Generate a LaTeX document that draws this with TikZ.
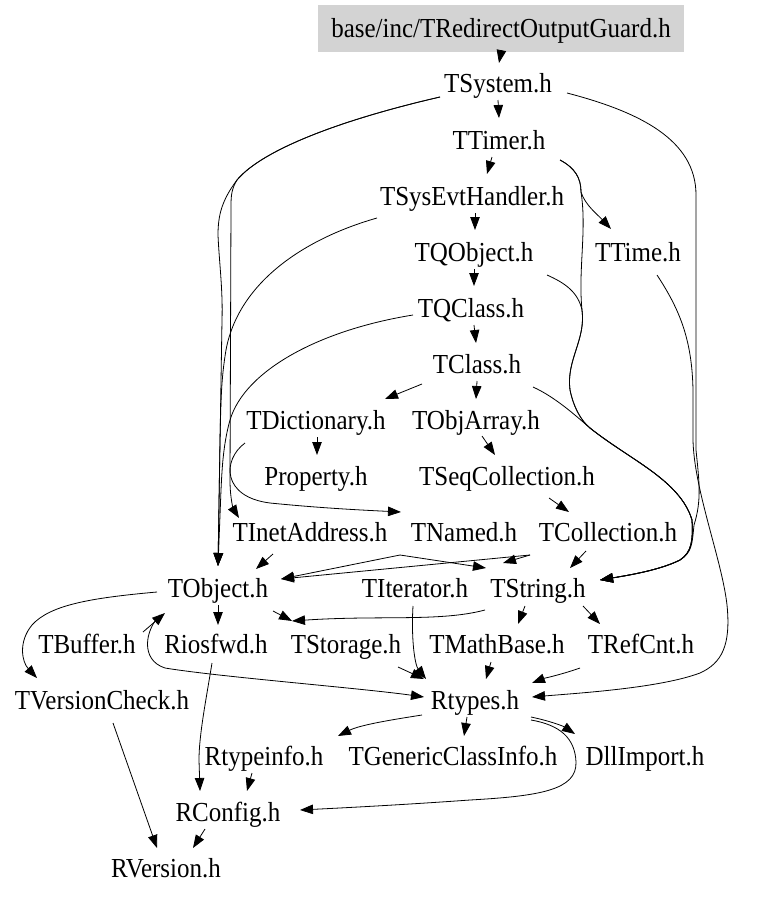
\documentclass[tikz,border=0pt]{standalone}
\usepackage{fontspec}
\setmainfont{Liberation Serif}
\usepackage{graphicx}
\usetikzlibrary{arrows.meta,calc}
\definecolor{boxgray}{RGB}{211,211,211}
\newcommand\nlab[1]{\scalebox{1}[1.1]{#1}}
\begin{document}
\begin{tikzpicture}[x=1pt,y=-1pt,
  lab/.style={inner sep=0pt, text height=23pt, text depth=6pt, font=\fontsize{25pt}{30pt}\selectfont},
  rootbox/.style={lab, fill=boxgray, minimum width=366pt, minimum height=47pt},
  edg/.style={draw, line width=0.8pt, -{Triangle[length=13pt,width=9.5pt]}}]
\fill[white] (0,0) rectangle (779,897);
\useasboundingbox (0,0) rectangle (779,897);

\node[rootbox] (rog) at (501,28.5) {\nlab{base/inc/TRedirectOutputGuard.h}};
\node[lab] (tsystem) at (498,84) {\nlab{TSystem.h}};
\node[lab] (ttimer) at (499,141) {\nlab{TTimer.h}};
\node[lab] (tsys) at (472,197) {\nlab{TSysEvtHandler.h}};
\node[lab] (tqobject) at (474,253) {\nlab{TQObject.h}};
\node[lab] (ttime) at (638,253) {\nlab{TTime.h}};
\node[lab] (tqclass) at (471,309) {\nlab{TQClass.h}};
\node[lab] (tclass) at (477,365) {\nlab{TClass.h}};
\node[lab] (tdict) at (316,421) {\nlab{TDictionary.h}};
\node[lab] (tobjarray) at (476,421) {\nlab{TObjArray.h}};
\node[lab] (property) at (316,477) {\nlab{Property.h}};
\node[lab] (tseqcoll) at (507,477) {\nlab{TSeqCollection.h}};
\node[lab] (tinet) at (310,533) {\nlab{TInetAddress.h}};
\node[lab] (tnamed) at (464,533) {\nlab{TNamed.h}};
\node[lab] (tcoll) at (608,533) {\nlab{TCollection.h}};
\node[lab] (tobject) at (218,589) {\nlab{TObject.h}};
\node[lab] (titer) at (415,589) {\nlab{TIterator.h}};
\node[lab] (tstring) at (538,589) {\nlab{TString.h}};
\node[lab] (tbuffer) at (87,645) {\nlab{TBuffer.h}};
\node[lab] (riosfwd) at (216,645) {\nlab{Riosfwd.h}};
\node[lab] (tstorage) at (346,645) {\nlab{TStorage.h}};
\node[lab] (tmathbase) at (497,645) {\nlab{TMathBase.h}};
\node[lab] (trefcnt) at (641,645) {\nlab{TRefCnt.h}};
\node[lab] (tversion) at (102,701) {\nlab{TVersionCheck.h}};
\node[lab] (rtypes) at (475,701) {\nlab{Rtypes.h}};
\node[lab] (rtypeinfo) at (264,757) {\nlab{Rtypeinfo.h}};
\node[lab] (tgci) at (453,757) {\nlab{TGenericClassInfo.h}};
\node[lab] (dllimport) at (645,757) {\nlab{DllImport.h}};
\node[lab] (rconfig) at (228,813) {\nlab{RConfig.h}};
\node[lab] (rversion) at (166,869) {\nlab{RVersion.h}};

% short edges
\draw[edg] ($(rog)+(0,24)$) -- ($(tsystem)+(1,-21)$);
\draw[edg] ($(tsystem)+(0,16)$) -- ($(ttimer)+(0,-23)$);
\draw[edg] ($(ttimer)+(-7,16)$) -- ($(tsys)+(15,-23)$);
\draw[edg] ($(tsys)+(3,16)$) -- ($(tqobject)+(1,-23)$);
\draw[edg] ($(tqobject)+(0,16)$) -- ($(tqclass)+(3,-23)$);
\draw[edg] ($(tqclass)+(3,16)$) -- ($(tclass)+(-1,-22)$);
\draw[edg] ($(tclass)+(0,16)$) -- ($(tobjarray)+(0,-22)$);
\draw[edg] ($(tclass)+(-55,19)$) -- ($(tdict)+(69,-22)$);
\draw[edg] ($(tdict)+(1,16)$) -- ($(property)+(1,-22)$);
\draw[edg] ($(tobjarray)+(6,15)$) -- ($(tseqcoll)+(-12,-22)$);
\draw[edg] ($(tseqcoll)+(42,21)$) -- ($(tcoll)+(-39,-21)$);
\draw[edg] ($(tcoll)+(-22,18)$) -- ($(tstring)+(32,-21)$);
\draw[edg] ($(tinet)+(-37,21)$) -- ($(tobject)+(38,-20)$);
\draw[edg] ($(tnamed)+(-64,22)$) -- ($(tobject)+(63,-10)$);
\draw[edg] ($(tnamed)+(-64,22)$) -- ($(tstring)+(-52,-21)$);
\draw[edg] ($(tcoll)+(-78,22)$) -- ($(tobject)+(63,-10)$);
\draw[edg] ($(tcoll)+(-78,22)$) -- ($(titer)+(88,-26)$);
\draw[edg] ($(tobject)+(0,16)$) -- ($(riosfwd)+(2,-20)$);
\draw[edg] ($(tobject)+(55,22)$) -- ($(tstorage)+(-54,-24)$);
\draw[edg] ($(tstring)+(-53,21)$) .. controls (440,622) and (380,615) .. ($(tstorage)+(-54,-24)$);
\draw[edg] ($(tstring)+(-13,17)$) -- ($(tmathbase)+(21,-21)$);
\draw[edg] ($(tstring)+(45,17)$) -- ($(trefcnt)+(-41,-21)$);
\draw[edg] ($(trefcnt)+(-61,23)$) .. controls (560,675) and (545,678) .. ($(rtypes)+(57,-18)$);
\draw[edg] ($(tmathbase)+(-6,17)$) -- ($(rtypes)+(11,-22)$);
\draw[edg] ($(tstorage)+(52,22)$) -- ($(rtypes)+(-51,-22)$);
\draw[edg] ($(titer)+(-2,17)$) .. controls (411,640) and (415,665) .. ($(rtypes)+(-49,-22)$);
\draw[edg] ($(tobject)+(-58,26)$) .. controls (145,630) and (140,660) .. (165,668) .. controls (220,677) and (360,688) .. ($(rtypes)+(-51,-4)$);
\draw[edg] ($(tbuffer)+(56,-13)$) -- ($(tobject)+(-53,24)$);
\draw[edg] ($(rtypes)+(-53,14)$) .. controls (390,720) and (360,725) .. ($(rtypeinfo)+(74,-21)$);
\draw[edg] ($(rtypes)+(-8,16)$) -- ($(tgci)+(11,-21)$);
\draw[edg] ($(rtypes)+(56,16)$) .. controls (550,721) and (563,726) .. ($(dllimport)+(-70,-23)$);
\draw[edg] ($(rtypes)+(56,19)$) .. controls (560,725) and (575,738) .. (576,762) .. controls (577,790) and (540,796) .. (470,800) .. controls (400,805) and (340,808) .. ($(rconfig)+(72,-3)$);
\draw[edg] ($(riosfwd)+(-4,18)$) .. controls (206,700) and (199,735) .. (199,760) -- ($(rconfig)+(-28,-22)$);
\draw[edg] ($(rtypeinfo)+(-12,16)$) -- ($(rconfig)+(19,-22)$);
\draw[edg] ($(rconfig)+(-23,16)$) -- ($(rversion)+(27,-21)$);
\draw[edg] ($(tversion)+(11,22)$) -- ($(rversion)+(-9,-21)$);
\draw[edg] ($(tobject)+(-61,3)$) .. controls (90,598) and (50,605) .. (32,625) .. controls (18,642) and (22,662) .. ($(tversion)+(-65,-23)$);

% long edges, left side
\draw[edg] ($(tsystem)+(-58,13)$) .. controls (340,120) and (262,150) .. (237,180) .. controls (222,200) and (218,215) .. (218,235) .. controls (219,260) and (223,290) .. (222,320) -- ($(tobject)+(0,-23)$);
\draw[edg] ($(tsystem)+(-58,13)$) .. controls (340,120) and (262,150) .. (237,180) .. controls (232,188) and (231,195) .. (231,205) -- (230,480) .. controls (230,500) and (234,510) .. ($(tinet)+(-71,-15)$);
\draw[edg] ($(tsys)+(-95,21)$) .. controls (300,240) and (238,285) .. (226,350) .. controls (221,380) and (221,400) .. (220,440) -- ($(tobject)+(0,-23)$);
\draw[edg] ($(tqclass)+(-58,6)$) .. controls (320,330) and (245,370) .. (230,420) .. controls (223,445) and (222,470) .. (221,490) -- ($(tobject)+(0,-23)$);
\draw[edg] ($(tdict)+(-71,22)$) .. controls (222,460) and (222,497) .. (270,503) .. controls (320,508) and (360,510) .. ($(tnamed)+(-63,-21)$);

% long edges, right side
\draw[edg] ($(ttimer)+(61,19)$) .. controls (575,168) and (581,178) .. (581,192) .. controls (585,205) and (598,215) .. ($(ttime)+(-27,-24)$);
\draw[edg] ($(ttimer)+(61,19)$) .. controls (575,168) and (581,178) .. (581,192) .. controls (587,230) and (578,270) .. (582,310) .. controls (586,340) and (566,360) .. (570,390) .. controls (573,405) and (580,420) .. (590,428) .. controls (630,460) and (680,480) .. (692,520) .. controls (693,540) and (692,552) .. (680,560) .. controls (660,570) and (630,575) .. ($(tstring)+(62,-9)$);
\draw[edg] ($(tqobject)+(73,22)$) .. controls (565,283) and (578,292) .. (582,310) .. controls (586,340) and (566,360) .. (570,390) .. controls (573,405) and (580,420) .. (590,428) .. controls (630,460) and (680,480) .. (692,520) .. controls (693,540) and (692,552) .. (680,560) .. controls (660,570) and (630,575) .. ($(tstring)+(62,-9)$);
\draw[edg] ($(tclass)+(56,22)$) .. controls (555,397) and (575,415) .. (590,428) .. controls (630,460) and (680,480) .. (692,520) .. controls (693,540) and (692,552) .. (680,560) .. controls (660,570) and (630,575) .. ($(tstring)+(62,-9)$);
\draw[edg] ($(tsystem)+(69,9)$) .. controls (640,112) and (696,140) .. (696,195) -- (696,450) .. controls (699,480) and (702,500) .. (694,525) .. controls (692,545) and (692,552) .. (680,560) .. controls (660,570) and (630,575) .. ($(tstring)+(62,-9)$);
\draw[edg] ($(ttime)+(19,22)$) .. controls (680,310) and (692,340) .. (693,390) -- (693,440) .. controls (694,490) and (722,560) .. (727,605) .. controls (731,645) and (722,663) .. (700,673) .. controls (660,688) and (580,693) .. ($(rtypes)+(57,-4)$);
\end{tikzpicture}
\end{document}
